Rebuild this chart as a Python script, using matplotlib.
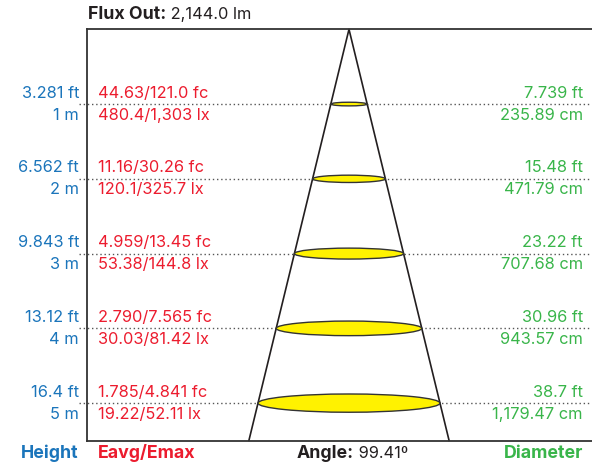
import matplotlib
matplotlib.use("Agg")
import matplotlib.pyplot as plt
import numpy as np
from matplotlib.patches import Ellipse

plt.rcParams['font.family'] = ['Inter', 'DejaVu Sans']

# photometric data
flux_out = "2,144.0 lm"
beam_angle = 99.41
heights_m = [1, 2, 3, 4, 5]
heights_ft = ["3.281 ft", "6.562 ft", "9.843 ft", "13.12 ft", "16.4 ft"]
illum_fc = ["44.63/121.0 fc", "11.16/30.26 fc", "4.959/13.45 fc",
            "2.790/7.565 fc", "1.785/4.841 fc"]
illum_lx = ["480.4/1,303 lx", "120.1/325.7 lx", "53.38/144.8 lx",
            "30.03/81.42 lx", "19.22/52.11 lx"]
diameter_ft = ["7.739 ft", "15.48 ft", "23.22 ft", "30.96 ft", "38.7 ft"]
diameter_cm = [235.89, 471.79, 707.68, 943.57, 1179.47]

BLUE = '#1b75bb'
RED = '#ec1c2e'
GREEN = '#39b54a'
DARK = '#231f20'
LINE = '#333333'
FS = 11.8
FS_B = 12.8

fig = plt.figure(figsize=(5.92, 4.66), dpi=100)
ax = fig.add_axes([87 / 592, 25.5 / 466, 505 / 592, 411.2 / 466])

depth = 5.5
half_tan = np.tan(np.radians(beam_angle / 2))
ax.set_ylim(depth, 0)
ax.set_xlim(-16.98, 15.75)
ax.set_xticks([])
ax.set_yticks([])
ax.spines['right'].set_visible(False)
for s in ('left', 'top', 'bottom'):
    ax.spines[s].set_color(LINE)
    ax.spines[s].set_linewidth(1.3)

# cone
ax.plot([-half_tan * depth, 0, half_tan * depth], [depth, 0, depth],
        color=DARK, lw=1.2, clip_on=False, zorder=2)

ytrans = ax.get_yaxis_transform()
for i, h in enumerate(heights_m):
    ax.hlines(h, -8 / 505, 1, transform=ytrans, colors='#555555', lw=1,
              linestyles=(0, (1, 2)), clip_on=False, zorder=1)
    d = diameter_cm[i] / 100
    ax.add_patch(Ellipse((0, h), d, d * 0.0207, facecolor='#fff200',
                         edgecolor=LINE, lw=1, zorder=3))

    common = dict(xycoords=ytrans, textcoords='offset pixels',
                  va='center', fontsize=FS)
    ax.annotate(heights_ft[i], (0, h), xytext=(-8, 11), ha='right',
                color=BLUE, **common)
    ax.annotate(f"{h} m", (0, h), xytext=(-8, -11), ha='right',
                color=BLUE, **common)
    ax.annotate(illum_fc[i], (0, h), xytext=(11, 11), ha='left',
                color=RED, **common)
    ax.annotate(illum_lx[i], (0, h), xytext=(11, -11), ha='left',
                color=RED, **common)
    ax.annotate(diameter_ft[i], (1, h), xytext=(-9, 11), ha='right',
                color=GREEN, **common)
    ax.annotate(f"{diameter_cm[i]:,.2f} cm", (1, h), xytext=(-9, -11),
                ha='right', color=GREEN, **common)

# footer labels
foot = dict(xycoords='axes fraction', textcoords='offset pixels',
            va='baseline', fontsize=FS_B, fontweight='bold')
ax.annotate("Height", (0, 0), xytext=(-8, -18), ha='right', color=BLUE, **foot)
ax.annotate("Eavg/Emax", (0, 0), xytext=(11, -18), ha='left', color=RED, **foot)
ax.annotate("Diameter", (1, 0), xytext=(-9, -18), ha='right', color=GREEN, **foot)


def bold_then_regular(bold, regular, xy, xycoords, dx, dy):
    b = ax.annotate(bold, xy, xycoords=xycoords, xytext=(dx, dy),
                    textcoords='offset pixels', ha='left', va='baseline',
                    fontsize=FS_B, fontweight='bold', color=DARK)
    fig.canvas.draw()
    w = b.get_window_extent().width
    ax.annotate(regular, xy, xycoords=xycoords, xytext=(dx + w, dy),
                textcoords='offset pixels', ha='left', va='baseline',
                fontsize=FS, color=DARK)


bold_then_regular("Angle:", f" {beam_angle}º", (0, depth), 'data', -52, -18)
bold_then_regular("Flux Out:", f" {flux_out}", (0, 1), 'axes fraction', 1, 10)

fig.savefig("out.png", dpi=100)
